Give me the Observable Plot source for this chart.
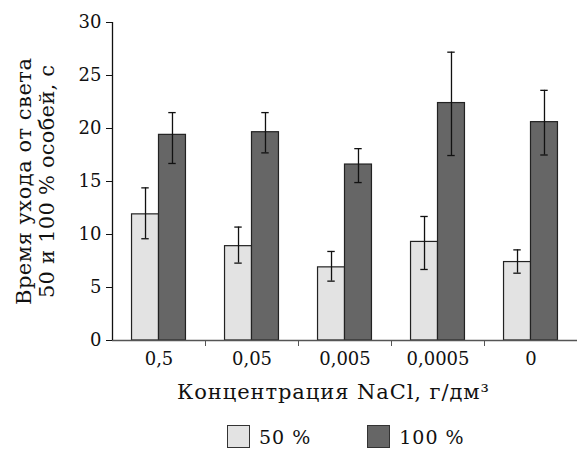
<!DOCTYPE html>
<html><head><meta charset="utf-8">
<script src="https://cdn.jsdelivr.net/npm/d3@7"></script>
<script src="https://cdn.jsdelivr.net/npm/@observablehq/plot@0.6"></script>
<style>
body{margin:0;background:#fff;font-family:"DejaVu Serif",serif;}
#wrap{position:relative;width:577px;height:449px;overflow:hidden;}
#legend{position:absolute;top:425px;left:227px;display:flex;align-items:center;font-size:19px;color:#111;letter-spacing:1px;}
.item{display:flex;align-items:center;}
.sw{width:21px;height:21px;border:1px solid #333;box-sizing:content-box;}
.lab{margin-left:9px;}
</style>
</head><body><div id="wrap"><div id="chart"></div><div id="legend"></div></div>
<script>
const categories = ["0,5", "0,05", "0,005", "0,0005", "0"];
const series = ["50 %", "100 %"];
const values50 = [11.9, 8.9, 6.9, 9.3, 7.4];
const low50 = [9.6, 7.3, 5.6, 6.7, 6.35];
const high50 = [14.4, 10.7, 8.4, 11.7, 8.55];
const values100 = [19.4, 19.65, 16.6, 22.4, 20.6];
const low100 = [16.7, 17.7, 14.9, 17.45, 17.5];
const high100 = [21.5, 21.5, 18.1, 27.2, 23.6];
const yTicks = [0, 5, 10, 15, 20, 25, 30];
const colors = ["#e3e3e3", "#666666"];
const yTitle1 = "Время ухода от света";
const yTitle2 = "50 и 100 % особей, с";
const xTitle = "Концентрация NaCl, г/дм³";

const barW = 0.29, capHalf = 0.04;
const rows = [];
categories.forEach((c, i) => {
  [[values50, low50, high50], [values100, low100, high100]].forEach(([v, lo, hi], s) => {
    const x1 = i + 0.5 - (s === 0 ? barW : 0);
    rows.push({cat: c, s: series[s], value: v[i], lo: lo[i], hi: hi[i], x1, x2: x1 + barW, xc: x1 + barW / 2});
  });
});
const centers = categories.map((c, i) => i + 0.5);
const bounds = categories.slice(1).map((c, i) => i + 1);

const chart = Plot.plot({
  width: 577, height: 410,
  marginLeft: 112, marginRight: 0, marginTop: 22, marginBottom: 70,
  style: {fontFamily: "DejaVu Serif, serif", fontSize: "18px", color: "#111", background: "#fff"},
  x: {domain: [0, categories.length], axis: null},
  y: {domain: [0, 30], axis: null},
  color: {domain: series, range: colors},
  marks: [
    Plot.rectY(rows, {x1: "x1", x2: "x2", y1: 0, y2: "value", fill: "s", stroke: "#222", strokeWidth: 1.2}),
    Plot.ruleX(rows, {x: "xc", y1: "lo", y2: "hi", stroke: "#111", strokeWidth: 1.3}),
    Plot.ruleY(rows, {y: "lo", x1: d => d.xc - capHalf, x2: d => d.xc + capHalf, stroke: "#111", strokeWidth: 1.3}),
    Plot.ruleY(rows, {y: "hi", x1: d => d.xc - capHalf, x2: d => d.xc + capHalf, stroke: "#111", strokeWidth: 1.3}),
    Plot.ruleY([0], {stroke: "#555", strokeWidth: 1.5}),
    Plot.ruleX([0], {y1: 0, y2: 30, stroke: "#111", strokeWidth: 1.3}),
    Plot.axisY({ticks: yTicks, tickSize: 6, tickPadding: 5, label: null, fontSize: 18}),
    Plot.axisX({ticks: bounds, tickFormat: () => "", tickSize: 6, label: null, stroke: "#555"}),
    Plot.axisX({ticks: centers, tickFormat: d => categories[Math.round(d - 0.5)], tickSize: 0, tickPadding: 12, label: null, fontSize: 18}),
    Plot.text([xTitle], {frameAnchor: "bottom", textAnchor: "middle", lineAnchor: "middle", dx: -12, dy: 52, fontSize: 21, fill: "#111"}),
    Plot.text([yTitle1], {frameAnchor: "left", textAnchor: "middle", lineAnchor: "middle", rotate: -90, dx: -88, fontSize: 21, fill: "#111"}),
    Plot.text([yTitle2], {frameAnchor: "left", textAnchor: "middle", lineAnchor: "middle", rotate: -90, dx: -65, fontSize: 21, fill: "#111"})
  ]
});
document.getElementById("chart").appendChild(chart);

// stretch titles to the reference widths
const fit = {[xTitle]: 312, [yTitle1]: 247, [yTitle2]: 233};
chart.querySelectorAll("text").forEach(t => {
  const w = fit[t.textContent];
  if (w) { t.setAttribute("textLength", w); t.setAttribute("lengthAdjust", "spacing"); }
});

const legend = document.getElementById("legend");
series.forEach((s, k) => {
  const it = document.createElement("div");
  it.className = "item";
  if (k > 0) it.style.marginLeft = "56px";
  const sw = document.createElement("div");
  sw.className = "sw";
  sw.style.background = colors[k];
  const lab = document.createElement("span");
  lab.className = "lab";
  lab.textContent = s;
  it.appendChild(sw); it.appendChild(lab);
  legend.appendChild(it);
});
</script></body></html>
